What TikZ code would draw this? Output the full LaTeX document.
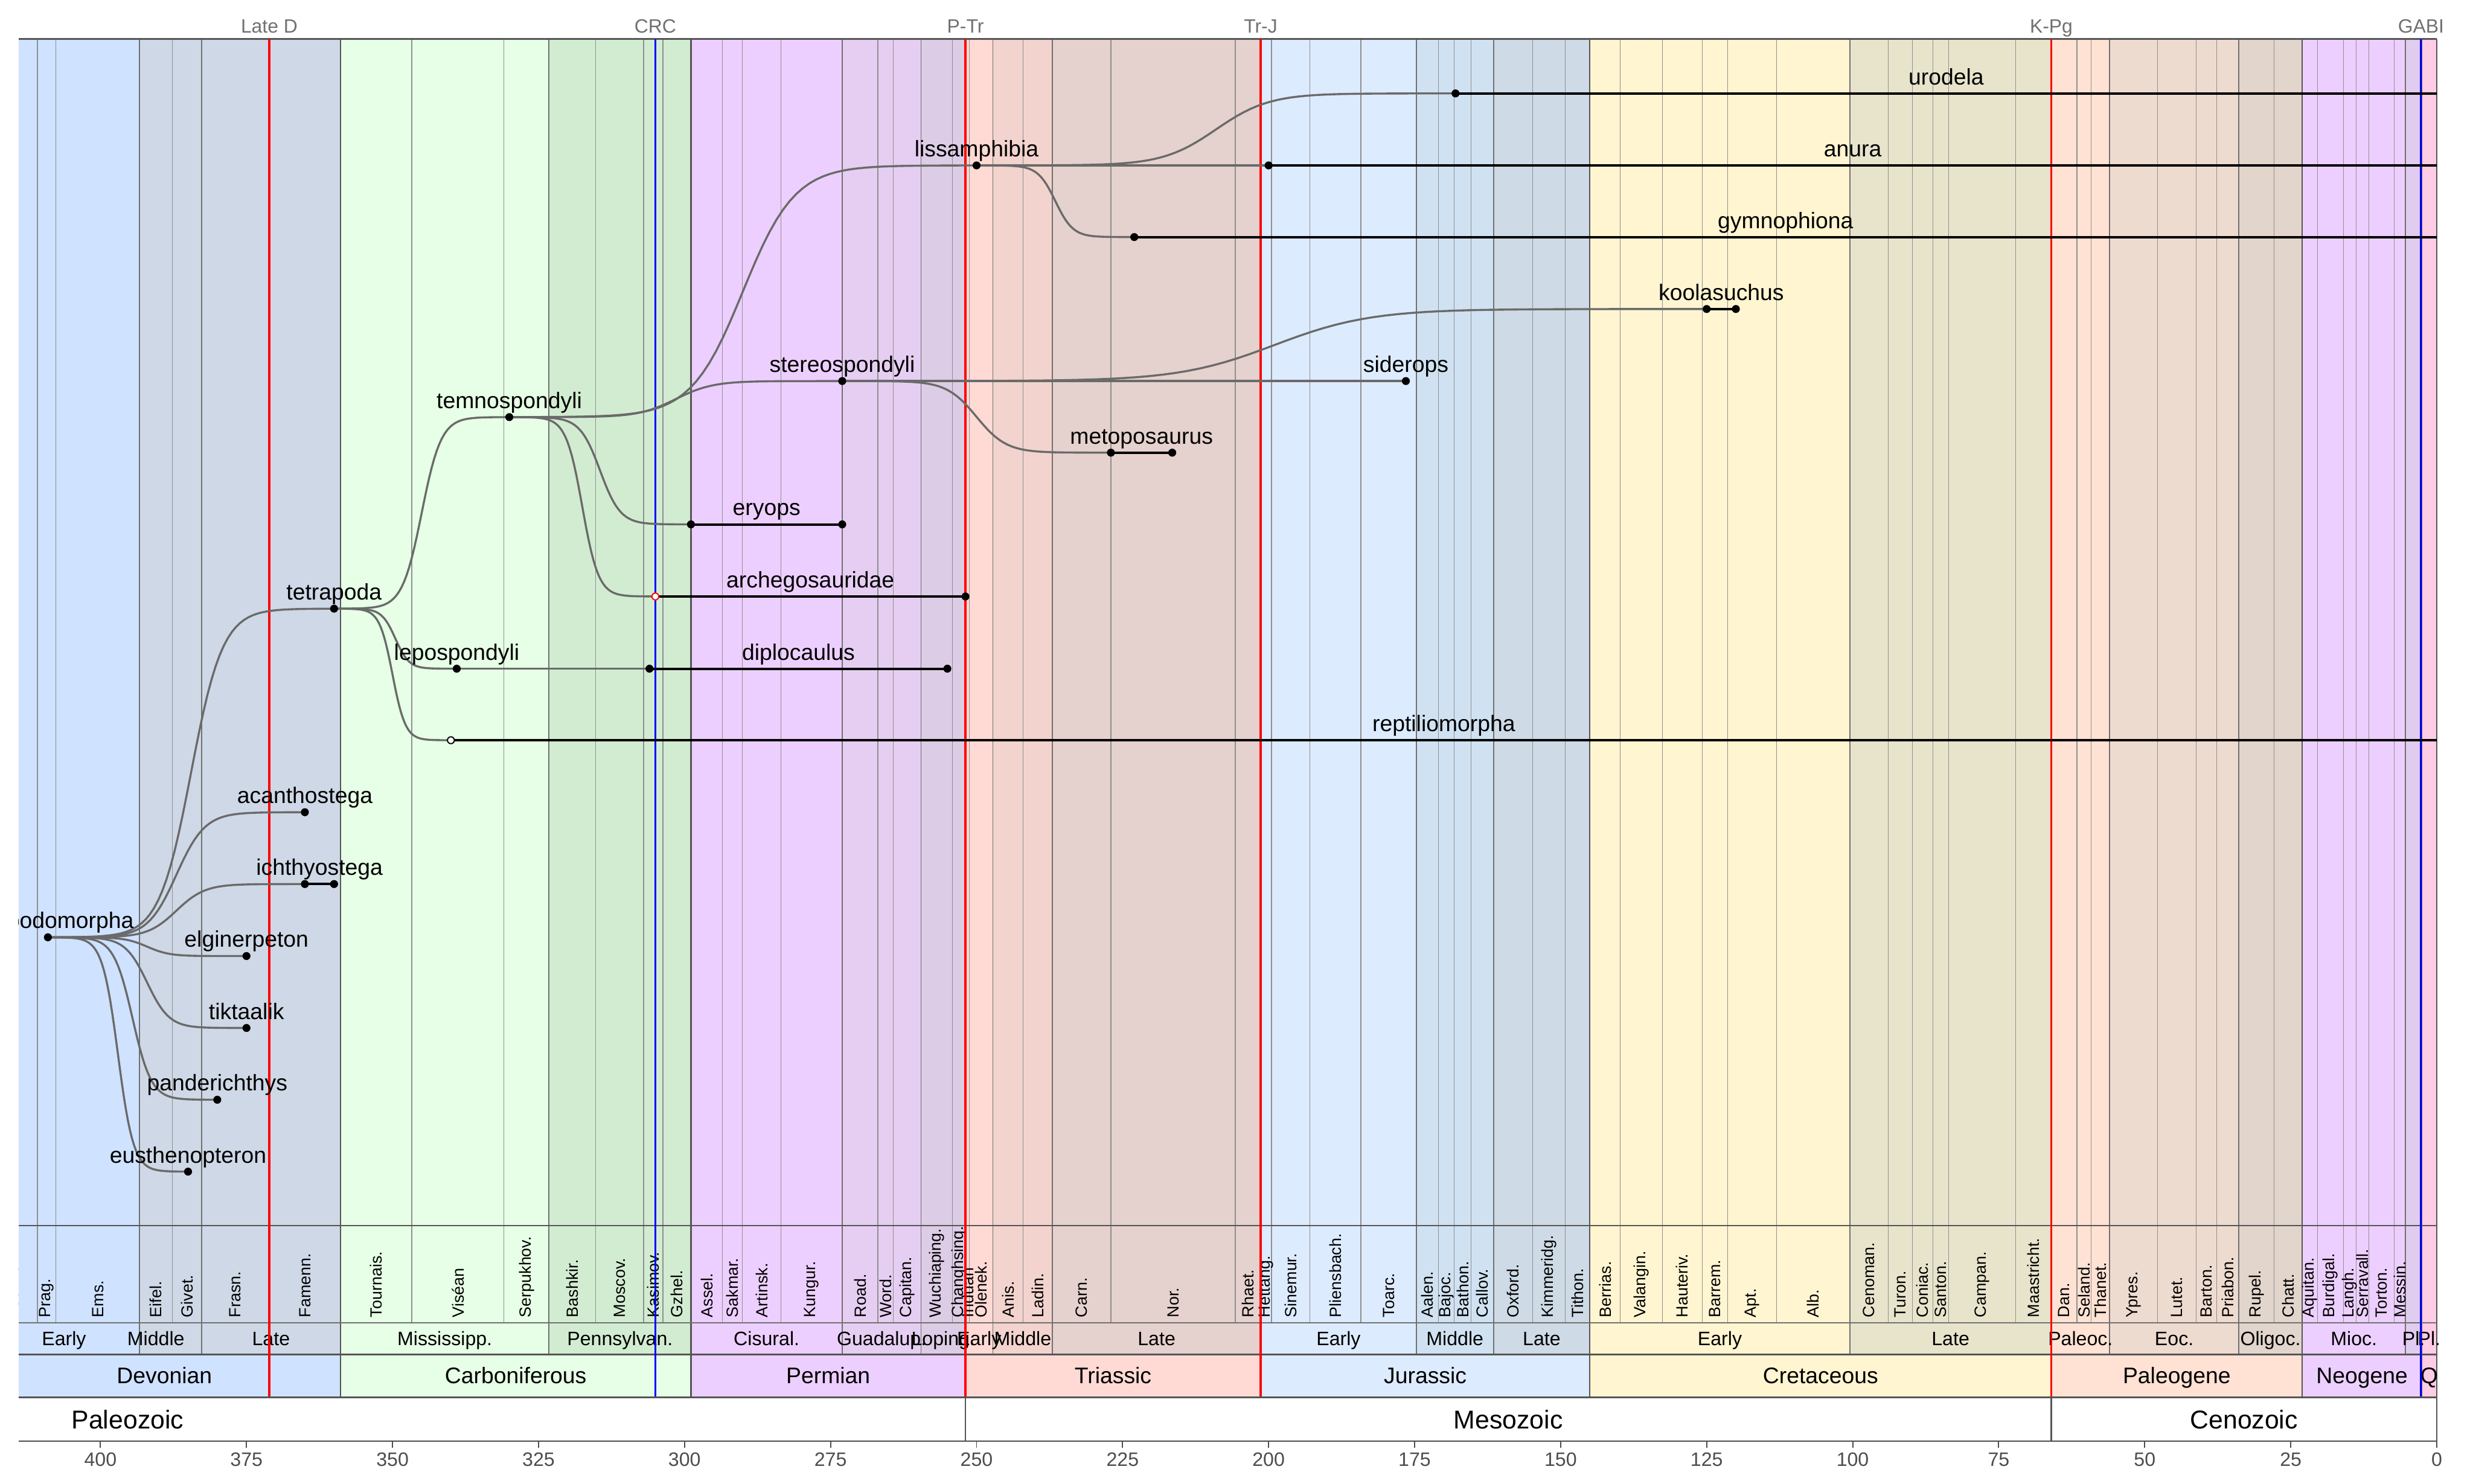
\documentclass[tikz,border=0pt]{standalone}
\usepackage{fontspec}
\setmainfont{Liberation Sans}
\usetikzlibrary{calc}
\definecolor{cDevE}{HTML}{CFE2FF}
\definecolor{cDevM}{HTML}{CFD8E6}
\definecolor{cCarM}{HTML}{E6FFE6}
\definecolor{cCarP}{HTML}{D2ECD2}
\definecolor{cPerC}{HTML}{EDCFFF}
\definecolor{cPerG}{HTML}{E6CEF2}
\definecolor{cPerL}{HTML}{DDCCE5}
\definecolor{cTriE}{HTML}{FFDAD5}
\definecolor{cTriM}{HTML}{F2D3CD}
\definecolor{cTriL}{HTML}{E5D1CD}
\definecolor{cJurE}{HTML}{DDEBFF}
\definecolor{cJurM}{HTML}{D0E2F2}
\definecolor{cJurL}{HTML}{CEDAE5}
\definecolor{cCreE}{HTML}{FFF5D1}
\definecolor{cCreL}{HTML}{E8E4CC}
\definecolor{cPalP}{HTML}{FFE2D3}
\definecolor{cPalE}{HTML}{EEDBCF}
\definecolor{cPalO}{HTML}{E2D5CC}
\definecolor{cNeoM}{HTML}{EDCFFF}
\definecolor{cNeoP}{HTML}{E0CCEE}
\definecolor{cQua}{HTML}{FFCCE6}
\definecolor{cStageLine}{HTML}{8F8F8F}
\definecolor{cEpochLine}{HTML}{707070}
\definecolor{cPeriodLine}{HTML}{555555}
\definecolor{cBand}{HTML}{555555}
\definecolor{cAxis}{HTML}{4D4D4D}
\definecolor{cEvent}{HTML}{707070}
\definecolor{cBranch}{HTML}{6A6A6A}
\tikzset{
  stageline/.style={draw=cStageLine, line width=0.37pt},
  epochline/.style={draw=cEpochLine, line width=0.57pt},
  periodline/.style={draw=cPeriodLine, line width=0.75pt},
  eraline/.style={draw=cBand, line width=0.7pt},
  bandline/.style={draw=cBand, line width=0.7pt},
  eventred/.style={draw=red, line width=1pt},
  eventblue/.style={draw=blue, line width=1pt},
  branchline/.style={draw=cBranch, line width=1.05pt, line join=round, line cap=round},
  rangeline/.style={draw=black, line width=1.25pt},
  tdot/.style={circle, fill=black, inner sep=0pt, minimum size=1.45mm},
  odot/.style={circle, fill=white, draw=black, line width=0.6pt, inner sep=0pt, minimum size=1.25mm},
  taxon/.style={anchor=base, inner sep=0pt, font=\fontsize{11.67}{13}\selectfont},
  stagelab/.style={rotate=90, anchor=west, inner sep=0pt, font=\fontsize{8.4}{9}\selectfont},
  epochlab/.style={anchor=base, inner sep=0pt, font=\fontsize{10.04}{12}\selectfont},
  periodlab/.style={anchor=base, inner sep=0pt, font=\fontsize{11.67}{13}\selectfont},
  eralab/.style={anchor=base, inner sep=0pt, font=\fontsize{13.37}{15}\selectfont},
  axislab/.style={anchor=base, inner sep=0pt, text=cAxis, font=\fontsize{10.04}{12}\selectfont},
  eventlab/.style={anchor=base, inner sep=0pt, text=cEvent, font=\fontsize{9.96}{12}\selectfont},
}
\newcommand{\sigbranch}[2]{%
  \draw[branchline] let \p1=(#1), \p2=(#2) in
    plot[variable=\u, domain=0:1, samples=71]
    ({\x1+\u*(\x2-\x1)},{\y1+(\y2-\y1)/(1+exp(-9*(2*\u-1)))});%
}
\begin{document}
\begin{tikzpicture}[x=-1.0628mm, y=-0.1mm, xshift=443.4mm]
\useasboundingbox (417.2,0) rectangle (-6.21,2700);

% ---------- epoch background (main panel, stage band, epoch band)
\foreach \a/\b/\c in {414/393.3/cDevE, 393.3/358.9/cDevM, 358.9/323.2/cCarM, 323.2/298.9/cCarP,
  298.9/273.01/cPerC, 273.01/259.51/cPerG, 259.51/251.902/cPerL, 251.902/247.2/cTriE,
  247.2/237/cTriM, 237/201.36/cTriL, 201.36/174.7/cJurE, 174.7/161.5/cJurM, 161.5/145/cJurL,
  145/100.5/cCreE, 100.5/66/cCreL, 66/56/cPalP, 56/33.9/cPalE, 33.9/23.03/cPalO,
  23.03/5.333/cNeoM, 5.333/2.58/cNeoP, 2.58/0/cQua}
  \fill[\c] (\a,71) rectangle (\b,2465);
% ---------- period band
\foreach \a/\b/\c in {414/358.9/cDevE, 358.9/298.9/cCarM, 298.9/251.902/cPerC, 251.902/201.36/cTriE,
  201.36/145/cJurE, 145/66/cCreE, 66/23.03/cPalP, 23.03/2.58/cNeoM, 2.58/0/cQua}
  \fill[\c] (\a,2465) rectangle (\b,2543);

% ---------- boundary lines
\foreach \a in {410.8,407.6,387.7,371.1,346.7,330.9,315.2,307.0,303.7,293.5,290.1,283.5,266.9,264.28,
  254.14,251.2,242,227,205.7,199.5,192.9,184.2,170.9,168.2,165.3,154.8,149.2,139.8,132.6,125.77,
  121.4,113.0,93.9,89.8,86.3,83.6,72.1,61.6,59.2,47.8,41.2,37.71,27.82,20.44,15.97,13.82,11.63,7.246}
  \draw[stageline] (\a,71) -- (\a,2407);
\foreach \a in {393.3,382.7,323.2,273.01,259.51,247.2,237,174.7,161.5,100.5,56,33.9,5.333}
  \draw[epochline] (\a,71) -- (\a,2465);
\foreach \a in {358.9,298.9,251.902,201.36,145,66,23.03,2.58,0}
  \draw[periodline] (\a,71) -- (\a,2543);

% ---------- horizontal band lines
\draw[bandline] (414,71) -- (0,71);
\draw[bandline] (414,2230) -- (0,2230);
\draw[draw=cEpochLine, line width=0.5pt] (414,2407) -- (0,2407);
\draw[bandline, line width=0.8pt] (414,2465) -- (0,2465);

% ---------- stage labels
\begin{scope}
\clip (414,2230) rectangle (0,2407);
\foreach \a/\s [count=\i] in {415.0/Lochkov., 409.2/Prag., 400.45/Ems., 390.5/Eifel., 385.2/Givet.,
  376.9/Frasn., 365.0/Famenn., 352.8/Tournais., 338.8/Viséan, 327.05/Serpukhov., 319.2/Bashkir.,
  311.1/Moscov., 305.35/Kasimov., 301.3/Gzhel., 296.2/Assel., 291.8/Sakmar., 286.8/Artinsk.,
  278.255/Kungur., 269.955/Road., 265.59/Word., 261.895/Capitan., 256.825/Wuchiaping.,
  253.02/Changhsing., 251.551/Induan, 249.2/Olenek., 244.6/Anis., 239.5/Ladin., 232/Carn.,
  216.35/Nor., 203.53/Rhaet., 200.43/Hettang., 196.2/Sinemur., 188.55/Pliensbach., 179.45/Toarc.,
  172.8/Aalen., 169.55/Bajoc., 166.75/Bathon., 163.4/Callov., 158.15/Oxford., 152/Kimmeridg.,
  147.1/Tithon., 142.4/Berrias., 136.2/Valangin., 129.185/Hauteriv., 123.585/Barrem., 117.2/Apt.,
  106.75/Alb., 97.2/Cenoman., 91.85/Turon., 88.05/Coniac., 84.95/Santon., 77.85/Campan.,
  69.05/Maastricht., 63.8/Dan., 60.4/Seland., 57.6/Thanet., 51.9/Ypres., 44.5/Lutet.,
  39.455/Barton., 35.805/Priabon., 30.86/Rupel., 25.425/Chatt., 21.735/Aquitan.,
  18.205/Burdigal., 14.895/Langh., 12.725/Serravall., 9.438/Torton., 6.29/Messin.}
  \node[stagelab] (stage\i) at (\a,2398) {\s};
\end{scope}

% ---------- epoch, period, era labels
\foreach \a/\s [count=\i] in {406.25/Early, 390.5/Middle, 370.8/Late, 341.05/Mississipp.,
  311.05/Pennsylvan., 285.955/Cisural., 266.26/Guadalup., 255.706/Loping., 249.551/Early,
  242.1/Middle, 219.18/Late, 188.03/Early, 168.1/Middle, 153.25/Late, 122.75/Early, 83.25/Late,
  61/Paleoc., 44.95/Eoc., 28.465/Oligoc., 14.18/Mioc., 3.957/Pl., 1.296/Pl.}
  \node[epochlab] (epoch\i) at (\a,2448) {\s};
\foreach \a/\s [count=\i] in {389.05/Devonian, 328.9/Carboniferous, 275.401/Permian,
  226.631/Triassic, 173.18/Jurassic, 105.5/Cretaceous, 44.515/Paleogene, 12.805/Neogene, 1.29/Q}
  \node[periodlab] (period\i) at (\a,2518) {\s};
\node[eralab] (era1) at (395.35,2600) {Paleozoic};
\node[eralab] (era2) at (158.95,2600) {Mesozoic};
\node[eralab] (era3) at (33,2600) {Cenozoic};

% ---------- event lines
\foreach \a in {371.1,251.902,201.36,66}
  \draw[eventred] (\a,71) -- (\a,2543);
\foreach \a in {305,2.7}
  \draw[eventblue] (\a,71) -- (\a,2543);
\foreach \a/\s [count=\i] in {371.1/Late D, 305/CRC, 251.902/P-Tr, 201.36/Tr-J, 66/K-Pg, 2.7/GABI}
  \node[eventlab] (event\i) at (\a,60) {\s};

% ---------- era band lines and axis
\foreach \a in {251.902,66,0}
  \draw[eraline] (\a,2543) -- (\a,2622);
\draw[bandline, line width=0.8pt] (414,2543) -- (0,2543);
\draw[draw=cAxis, line width=0.6pt] (414,2622) -- (0,2622);
\foreach \a in {400,375,...,0} {
  \draw[draw=cAxis, line width=0.6pt] (\a,2622) -- (\a,2634);
  \node[axislab] (tick\a) at (\a,2668) {\a};
}

% ---------- tree
\begin{scope}
\clip (414,71) rectangle (0,2230);
\coordinate (tpm) at (409,1705.6);
\coordinate (euste) at (385,2132);
\coordinate (pander) at (380,2001.2);
\coordinate (tikta) at (375,1870.6);
\coordinate (elgin) at (375,1739.7);
\coordinate (ichthyFA) at (365,1608.7);
\coordinate (ichthyLA) at (360,1608.7);
\coordinate (acanth) at (365,1478);
\coordinate (tetra) at (360,1107.6);
\coordinate (reptiFA) at (340,1347);
\coordinate (reptiLA) at (0,1347);
\coordinate (lepo) at (339,1216.8);
\coordinate (diploFA) at (306,1216.8);
\coordinate (diploLA) at (255,1216.8);
\coordinate (temno) at (330,759);
\coordinate (eryopsFA) at (298.9,954.2);
\coordinate (eryopsLA) at (273,954.2);
\coordinate (archegFA) at (305,1085.4);
\coordinate (archegLA) at (251.9,1085.4);
\coordinate (stereo) at (273,693.4);
\coordinate (liss) at (250,301);
\coordinate (uroFA) at (168,170);
\coordinate (uroLA) at (0,170);
\coordinate (anuraFA) at (200,301);
\coordinate (anuraLA) at (0,301);
\coordinate (gymnoFA) at (223,431.4);
\coordinate (gymnoLA) at (0,431.4);
\coordinate (sider) at (176.5,693.4);
\coordinate (koolaFA) at (125,562.3);
\coordinate (koolaLA) at (120,562.3);
\coordinate (metopoFA) at (227,823.7);
\coordinate (metopoLA) at (216.5,823.7);

% branches
\sigbranch{tpm}{euste}
\sigbranch{tpm}{pander}
\sigbranch{tpm}{tikta}
\sigbranch{tpm}{elgin}
\sigbranch{tpm}{ichthyFA}
\sigbranch{tpm}{acanth}
\sigbranch{tpm}{tetra}
\sigbranch{tetra}{temno}
\sigbranch{tetra}{lepo}
\sigbranch{tetra}{reptiFA}
\sigbranch{lepo}{diploFA}
\sigbranch{temno}{eryopsFA}
\sigbranch{temno}{archegFA}
\sigbranch{temno}{stereo}
\sigbranch{temno}{liss}
\sigbranch{stereo}{sider}
\sigbranch{stereo}{koolaFA}
\sigbranch{stereo}{metopoFA}
\sigbranch{liss}{uroFA}
\sigbranch{liss}{anuraFA}
\sigbranch{liss}{gymnoFA}

% ranges
\foreach \n in {ichthy,repti,diplo,eryops,archeg,uro,anura,gymno,koola,metopo}
  \draw[rangeline] (\n FA) -- (\n LA);

% points
\foreach \n in {tpm,euste,pander,tikta,elgin,ichthyFA,ichthyLA,acanth,tetra,lepo,diploFA,diploLA,
  temno,eryopsFA,eryopsLA,archegLA,stereo,liss,uroFA,anuraFA,gymnoFA,sider,koolaFA,koolaLA,
  metopoFA,metopoLA}
  \node[tdot] (dot\n) at (\n) {};
\node[odot] (dotreptiFA) at (reptiFA) {};
\node[odot, draw=red] (dotarchegFA) at (archegFA) {};

% labels
\node[taxon] (labtpm) at (409,1689.6) {tetrapodomorpha};
\node[taxon] (labeuste) at (385,2116) {eusthenopteron};
\node[taxon] (labpander) at (380,1985.2) {panderichthys};
\node[taxon] (labtikta) at (375,1854.6) {tiktaalik};
\node[taxon] (labelgin) at (375,1723.7) {elginerpeton};
\node[taxon] (labichthy) at (362.5,1592.7) {ichthyostega};
\node[taxon] (labacanth) at (365,1462) {acanthostega};
\node[taxon] (labtetra) at (360,1091.6) {tetrapoda};
\node[taxon] (labrepti) at (170,1331) {reptiliomorpha};
\node[taxon] (lablepo) at (339,1200.8) {lepospondyli};
\node[taxon] (labdiplo) at (280.5,1200.8) {diplocaulus};
\node[taxon] (labtemno) at (330,743) {temnospondyli};
\node[taxon] (laberyops) at (285.95,938.2) {eryops};
\node[taxon] (labarcheg) at (278.45,1069.4) {archegosauridae};
\node[taxon] (labstereo) at (273,677.4) {stereospondyli};
\node[taxon] (labliss) at (250,285) {lissamphibia};
\node[taxon] (laburo) at (84,154) {urodela};
\node[taxon] (labanura) at (100,285) {anura};
\node[taxon] (labgymno) at (111.5,415.4) {gymnophiona};
\node[taxon] (labsider) at (176.5,677.4) {siderops};
\node[taxon] (labkoola) at (122.5,546.3) {koolasuchus};
\node[taxon] (labmetopo) at (221.75,807.7) {metoposaurus};
\end{scope}
\end{tikzpicture}
\end{document}
